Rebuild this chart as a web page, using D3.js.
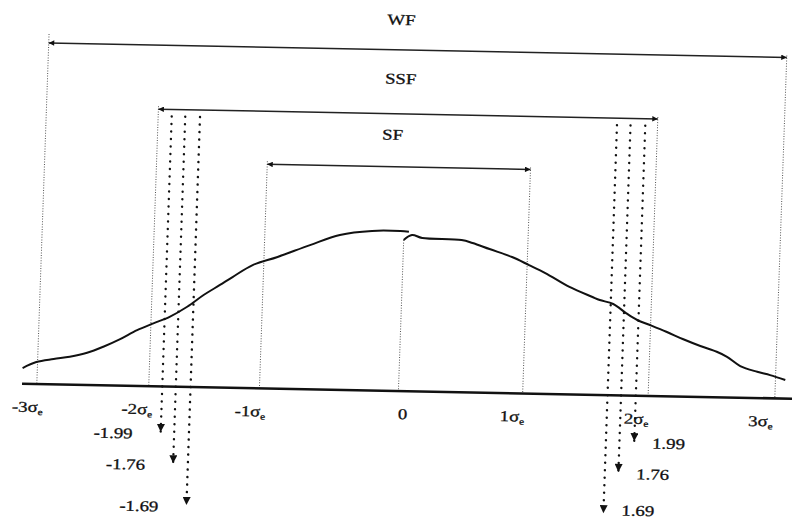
<!DOCTYPE html>
<html>
<head>
<meta charset="utf-8">
<script src="https://cdn.jsdelivr.net/npm/d3@7"></script>
<style>
  body { margin: 0; background: #fff; }
  text { font-family: "Liberation Serif", "Times New Roman", serif; font-size: 15px; fill: #111; stroke: #111; stroke-width: 0.3; }
</style>
</head>
<body>
<script>
// curve: [position in sigma, relative height]
const leftCurve = [
  [-3.06, 0.098], [-2.95, 0.137], [-2.81, 0.158], [-2.68, 0.174], [-2.54, 0.201],
  [-2.41, 0.241], [-2.28, 0.289], [-2.14, 0.349], [-2.01, 0.393], [-1.88, 0.436],
  [-1.74, 0.501], [-1.61, 0.576], [-1.48, 0.641], [-1.38, 0.692], [-1.22, 0.769],
  [-1.02, 0.823], [-0.76, 0.901], [-0.52, 0.968], [-0.26, 0.997], [-0.03, 1.0],
  [0.04, 0.997]
];
const rightCurve = [
  [0.00, 0.944], [0.066, 0.976], [0.15, 0.959], [0.47, 0.951], [0.56, 0.934],
  [0.70, 0.898], [0.885, 0.851], [1.025, 0.803], [1.16, 0.755], [1.36, 0.671],
  [1.55, 0.611], [1.61, 0.593], [1.72, 0.570], [1.83, 0.513], [1.92, 0.473],
  [2.025, 0.443], [2.16, 0.403], [2.30, 0.358], [2.44, 0.318], [2.575, 0.284],
  [2.66, 0.254], [2.77, 0.198], [2.91, 0.164], [3.015, 0.145], [3.14, 0.116]
];

const spanNames = ['WF', 'SSF', 'SF'];
const spanFrom = [-2.94, -2.03, -1.13];
const spanTo = [3.06, 2.03, 1.01];
const spanLabelAt = [-0.08, -0.07, -0.12];

const cutLabels = ['-1.99', '-1.76', '-1.69', '1.69', '1.76', '1.99'];
const cutPos = [-1.92, -1.81, -1.69, 1.70, 1.81, 1.93];
const cutDepth = [0, 1, 2, 2, 1, 0];

const tickLabels = ['-3', '-2', '-1', '0', '1', '2', '3'];
const tickPos = [-3.01, -2.12, -1.20, 0.04, 0.93, 1.94, 2.95];
const axisExtent = [-3.06, 3.25];

const width = 792, height = 520;
const x = d3.scaleLinear().domain([-3, 3]).range([34, 772]);
const y = d3.scaleLinear().domain([0, 1]).range([391, 231]);
const levelY = [50, 114, 167];
const labelY = [25, 84, 140];
const tipY = [436.5, 467.5, 509];
const cutTop = 121;

const svg = d3.select('body')
  .append('svg')
  .attr('width', width)
  .attr('height', height);

const defs = svg.append('defs');
defs.append('marker')
  .attr('id', 'head')
  .attr('viewBox', '0 0 10 10')
  .attr('refX', 10).attr('refY', 5)
  .attr('markerUnits', 'userSpaceOnUse')
  .attr('markerWidth', 8).attr('markerHeight', 5.5)
  .attr('orient', 'auto-start-reverse')
  .append('path').attr('d', 'M0,0L10,5L0,10Z').attr('fill', '#111');
defs.append('marker')
  .attr('id', 'down')
  .attr('viewBox', '0 0 10 10')
  .attr('refX', 10).attr('refY', 5)
  .attr('markerUnits', 'userSpaceOnUse')
  .attr('markerWidth', 9).attr('markerHeight', 8)
  .attr('orient', 'auto')
  .append('path').attr('d', 'M0,0L10,5L0,10Z').attr('fill', '#111');

// the scanned figure is slightly tilted
const g = svg.append('g')
  .attr('transform', 'matrix(1,0.0195,-0.035,1,9.1,-7.8)');

// thin dotted boundaries
const bounds = [];
spanNames.forEach((n, i) => {
  bounds.push({ x: spanFrom[i], top: levelY[i] - (i === 0 ? 9 : 3) });
  bounds.push({ x: spanTo[i], top: levelY[i] - 2 });
});
g.selectAll('line.bound')
  .data(bounds)
  .enter()
  .append('line')
  .attr('class', 'bound')
  .attr('x1', d => x(d.x)).attr('x2', d => x(d.x))
  .attr('y1', d => d.top).attr('y2', y(0))
  .attr('stroke', '#555')
  .attr('stroke-width', 1)
  .attr('stroke-dasharray', '1 1.6');

g.append('line')
  .attr('x1', x(rightCurve[0][0])).attr('x2', x(rightCurve[0][0]))
  .attr('y1', y(rightCurve[0][1])).attr('y2', y(0))
  .attr('stroke', '#555')
  .attr('stroke-width', 1)
  .attr('stroke-dasharray', '1 1.6');

// span arrows
g.selectAll('line.span')
  .data(spanNames)
  .enter()
  .append('line')
  .attr('class', 'span')
  .attr('x1', (d, i) => x(spanFrom[i]))
  .attr('x2', (d, i) => x(spanTo[i]))
  .attr('y1', (d, i) => levelY[i])
  .attr('y2', (d, i) => levelY[i])
  .attr('stroke', '#222')
  .attr('stroke-width', 1.5)
  .attr('marker-start', 'url(#head)')
  .attr('marker-end', 'url(#head)');

g.selectAll('text.span')
  .data(spanNames)
  .enter()
  .append('text')
  .attr('class', 'span')
  .attr('text-anchor', 'middle')
  .attr('transform', (d, i) => 'translate(' + x(spanLabelAt[i]) + ',' + labelY[i] + ') scale(1.25,1)')
  .text(d => d);

// axis line
g.append('line')
  .attr('x1', x(axisExtent[0])).attr('x2', x(axisExtent[1]))
  .attr('y1', y(0)).attr('y2', y(0))
  .attr('stroke', '#111')
  .attr('stroke-width', 2.6);

// the curve, drawn in two pieces as in the figure
const line = d3.line()
  .x(d => x(d[0]))
  .y(d => y(d[1]))
  .curve(d3.curveCatmullRom.alpha(0.5));

[leftCurve, rightCurve].forEach(c => {
  g.append('path')
    .attr('d', line(c))
    .attr('fill', 'none')
    .attr('stroke', '#111')
    .attr('stroke-width', 2);
});

// heavy dotted cut-off arrows
g.selectAll('line.cut')
  .data(cutLabels)
  .enter()
  .append('line')
  .attr('class', 'cut')
  .attr('x1', (d, i) => x(cutPos[i])).attr('x2', (d, i) => x(cutPos[i]))
  .attr('y1', cutTop)
  .attr('y2', (d, i) => tipY[cutDepth[i]])
  .attr('stroke', '#111')
  .attr('stroke-width', 2.4)
  .attr('stroke-linecap', 'round')
  .attr('stroke-dasharray', '0.1 7.4')
  .attr('marker-end', 'url(#down)');

g.selectAll('text.cut')
  .data(cutLabels)
  .enter()
  .append('text')
  .attr('class', 'cut')
  .attr('text-anchor', (d, i) => cutPos[i] < 0 ? 'end' : 'start')
  .attr('transform', (d, i) => {
    const px = x(cutPos[i]) + (cutPos[i] < 0 ? -28 : 18);
    // keep the lowest label inside the picture
    const py = Math.min(tipY[cutDepth[i]] + 7, cutPos[i] < 0 ? 520 : 511);
    return 'translate(' + px + ',' + py + ') scale(1.25,1)';
  })
  .text(d => d);

// tick labels
const ticks = g.selectAll('text.tick')
  .data(tickLabels)
  .enter()
  .append('text')
  .attr('class', 'tick')
  .attr('text-anchor', 'middle')
  .attr('transform', (d, i) => 'translate(' + x(tickPos[i]) + ',419) scale(1.25,1)');

ticks.append('tspan').text(d => d === '0' ? d : d + 'σ');
ticks.filter(d => d !== '0')
  .append('tspan')
  .attr('dy', 3)
  .style('font-size', '9px')
  .text('e');
</script>
</body>
</html>
